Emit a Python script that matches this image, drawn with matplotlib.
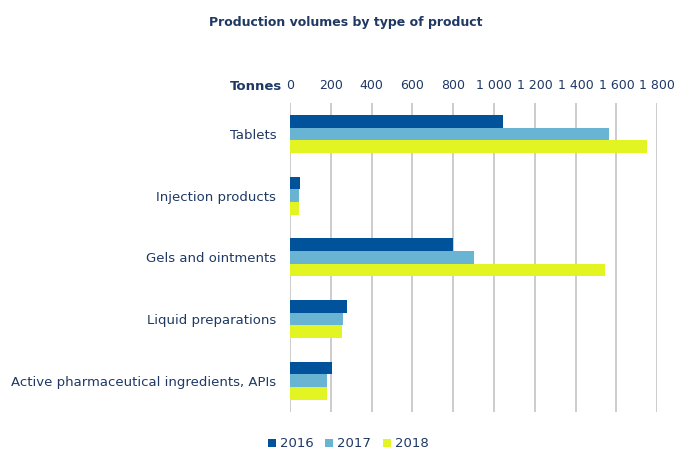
import numpy as np
import matplotlib
matplotlib.use("Agg")
from matplotlib import pyplot as plt
from matplotlib.ticker import FuncFormatter

categories = ["Tablets", "Injection products", "Gels and ointments",
              "Liquid preparations", "Active pharmaceutical ingredients, APIs"]
years = ["2016", "2017", "2018"]
v2016 = [1043, 49, 798, 278, 208]
v2017 = [1561, 44, 901, 258, 180]
v2018 = [1751, 44, 1545, 253, 181]
colors = ["#00539b", "#69b4d2", "#e2f522"]
text_col = "#1f3864"

plt.rcParams['font.family'] = ['DejaVu Sans']

fig = plt.figure(figsize=(6.77, 4.49), dpi=100)
ax = fig.add_axes([0.4284, 0.0835, 0.5425, 0.6871])

y = np.arange(len(categories))
h = 0.205
for i, vals in enumerate([v2016, v2017, v2018]):
	ax.barh(y + (i - 1) * h, vals, height=h, color=colors[i], label=years[i], zorder=3)

ax.set_ylim(len(categories) - 0.5, -0.5)
ax.set_xlim(0, 1800)
ax.set_xticks(np.arange(0, 1801, 200))
ax.xaxis.set_major_formatter(FuncFormatter(lambda v, p: "{:,}".format(int(v)).replace(",", " ")))
ax.xaxis.tick_top()
ax.tick_params(axis='x', length=0, pad=8, labelsize=9, labelcolor=text_col)
ax.tick_params(axis='y', length=0, pad=10, labelsize=9.5, labelcolor=text_col)
ax.set_yticks(y)
ax.set_yticklabels(categories)
ax.grid(axis='x', color="#c8c8c8", linewidth=1.3, zorder=0)
for s in ax.spines.values():
	s.set_visible(False)

fig.text(0.51, 0.951, "Production volumes by type of product", ha='center', va='center',
	fontsize=9, fontweight='bold', color=text_col)
fig.text(0.417, 0.808, "Tonnes", ha='right', va='center', fontsize=9.5,
	fontweight='bold', color=text_col)

leg = ax.legend(loc='center', bbox_to_anchor=(0.158, -0.105),
	ncol=3, frameon=False, fontsize=9.5, handlelength=0.6, handleheight=0.6,
	handletextpad=0.3, columnspacing=0.9)
for t in leg.get_texts():
	t.set_color(text_col)

fig.savefig("out.png", dpi=100)
